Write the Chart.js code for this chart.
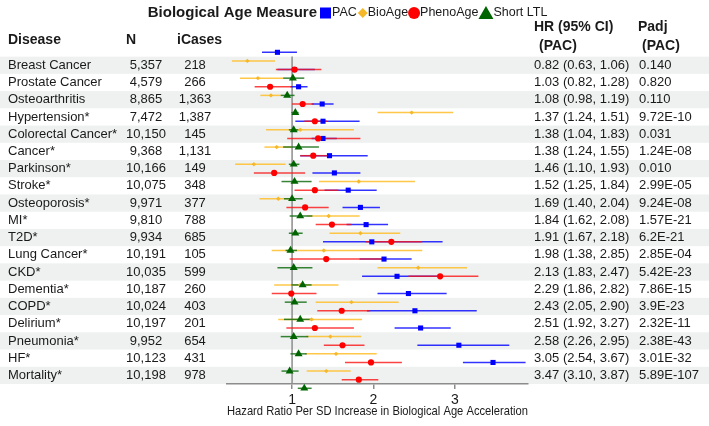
<!DOCTYPE html>
<html>
<head>
<meta charset="utf-8">
<script src="https://cdn.jsdelivr.net/npm/chart.js@4/dist/chart.umd.min.js"></script>
<style>
  html, body { margin: 0; padding: 0; background: #fff; }
</style>
</head>
<body>
<canvas id="forest_chart" width="709" height="426"></canvas>
<script>
const diseases = ['Breast Cancer', 'Prostate Cancer', 'Osteoarthritis', 'Hypertension*', 'Colorectal Cancer*',
  'Cancer*', 'Parkinson*', 'Stroke*', 'Osteoporosis*', 'MI*', 'T2D*', 'Lung Cancer*', 'CKD*', 'Dementia*',
  'COPD*', 'Delirium*', 'Pneumonia*', 'HF*', 'Mortality*'];
const nTotal = ['5,357', '4,579', '8,865', '7,472', '10,150', '9,368', '10,166', '10,075', '9,971', '9,810',
  '9,934', '10,191', '10,035', '10,187', '10,024', '10,197', '9,952', '10,123', '10,198'];
const nCases = ['218', '266', '1,363', '1,387', '145', '1,131', '149', '348', '377', '788',
  '685', '105', '599', '260', '403', '201', '654', '431', '978'];
const padj = ['0.140', '0.820', '0.110', '9.72E-10', '0.031', '1.24E-08', '0.010', '2.99E-05', '9.24E-08', '1.57E-21',
  '6.2E-21', '2.85E-04', '5.42E-23', '7.86E-15', '3.9E-23', '2.32E-11', '2.38E-43', '3.01E-32', '5.89E-107'];

// PAC
const pacHR = [0.82, 1.03, 1.08, 1.37, 1.38, 1.38, 1.46, 1.52, 1.69, 1.84, 1.91, 1.98, 2.13, 2.29, 2.43, 2.51, 2.58, 3.05, 3.47];
const pacLo = [0.63, 0.82, 0.98, 1.24, 1.04, 1.24, 1.10, 1.25, 1.40, 1.62, 1.67, 1.38, 1.83, 1.86, 2.05, 1.92, 2.26, 2.54, 3.10];
const pacHi = [1.06, 1.28, 1.19, 1.51, 1.83, 1.55, 1.93, 1.84, 2.04, 2.08, 2.18, 2.85, 2.47, 2.82, 2.90, 3.27, 2.95, 3.67, 3.87];
// BioAge
const bioHR = [0.45, 0.58, 0.74, 2.47, 1.10, 0.81, 0.53, 1.82, 0.83, 1.45, 1.84, 1.39, 2.55, 1.10, 1.73, 1.24, 1.47, 1.54, 1.42];
const bioLo = [0.26, 0.36, 0.61, 2.05, 0.68, 0.66, 0.30, 1.33, 0.60, 1.18, 1.46, 0.75, 2.05, 0.78, 1.29, 0.83, 1.17, 1.16, 1.18];
const bioHi = [0.79, 0.89, 0.86, 2.98, 1.76, 0.99, 0.92, 2.51, 1.00, 1.83, 2.33, 2.60, 3.15, 1.57, 2.31, 1.86, 1.85, 2.04, 1.72];
// PhenoAge
const phenoHR = [1.03, 0.73, 1.13, 1.28, 1.32, 1.26, 0.78, 1.28, 1.16, 1.49, 2.22, 1.42, 2.82, 0.99, 1.61, 1.28, 1.62, 1.97, 1.82];
const phenoLo = [0.80, 0.54, 1.00, 1.15, 0.94, 1.10, 0.53, 1.03, 0.93, 1.29, 1.90, 0.97, 2.43, 0.75, 1.31, 0.93, 1.39, 1.65, 1.61];
const phenoHi = [1.36, 0.99, 1.27, 1.43, 1.84, 1.43, 1.16, 1.57, 1.45, 1.73, 2.60, 2.13, 3.29, 1.30, 1.96, 1.76, 1.89, 2.35, 2.06];
// Short LTL
const ltlHR = [1.01, 0.94, 1.04, 1.02, 1.08, 1.02, 1.03, 1.00, 1.10, 1.04, 0.98, 1.02, 1.13, 1.03, 1.10, 1.02, 1.08, 0.97, 1.15];
const ltlLo = [0.89, 0.86, 0.99, 0.96, 0.89, 0.96, 0.87, 0.90, 0.97, 0.96, 0.92, 0.82, 0.99, 0.91, 0.90, 0.86, 0.98, 0.87, 1.07];
const ltlHi = [1.15, 1.03, 1.08, 1.08, 1.33, 1.09, 1.24, 1.13, 1.25, 1.13, 1.06, 1.25, 1.24, 1.18, 1.23, 1.20, 1.18, 1.08, 1.24];

const xTicks = [1, 2, 3];
const FONT = '"Liberation Sans", Arial, sans-serif';

function fmt(v) { return v.toFixed(2); }
const hrText = pacHR.map((v, i) => fmt(v) + ' (' + fmt(pacLo[i]) + ', ' + fmt(pacHi[i]) + ')');

function makeSet(label, hr, lo, hi, off, style, radius, color, lineColor, order) {
  return {
    label: label,
    data: hr.map((v, i) => ({ x: v, y: i + off })),
    lo: lo, hi: hi, off: off, lineColor: lineColor,
    pointStyle: style,
    pointRadius: radius,
    pointHoverRadius: radius,
    backgroundColor: color,
    borderColor: color,
    borderWidth: 0,
    clip: false,
    order: order
  };
}

// background bands, reference line, CI whiskers
const forestPlugin = {
  id: 'forest',
  beforeDraw(chart) {
    const c = chart.ctx, y = chart.scales.y, x = chart.scales.x;
    c.save();
    c.fillStyle = '#fff';
    c.fillRect(0, 0, chart.width, chart.height);
    c.fillStyle = '#EEF1F0';
    for (let i = 0; i < diseases.length; i += 2) {
      const t = y.getPixelForValue(i - 0.5), b = y.getPixelForValue(i + 0.5);
      c.fillRect(0, t, chart.width, b - t);
    }
    c.strokeStyle = '#8c8c8c';
    c.lineWidth = 1.5;
    c.beginPath();
    c.moveTo(x.getPixelForValue(1), y.getPixelForValue(-0.5));
    c.lineTo(x.getPixelForValue(1), chart.chartArea.bottom);
    c.stroke();
    c.restore();
  },
  beforeDatasetsDraw(chart) {
    const c = chart.ctx, y = chart.scales.y, x = chart.scales.x;
    c.save();
    c.lineWidth = 1.5;
    chart.data.datasets.forEach(ds => {
      c.strokeStyle = ds.lineColor;
      ds.lo.forEach((lo, i) => {
        const py = y.getPixelForValue(i + ds.off);
        c.beginPath();
        c.moveTo(x.getPixelForValue(lo), py);
        c.lineTo(x.getPixelForValue(ds.hi[i]), py);
        c.stroke();
      });
    });
    c.restore();
  },
  afterDraw(chart) {
    const c = chart.ctx, y = chart.scales.y;
    c.save();
    c.fillStyle = '#1a1a1a';
    c.textBaseline = 'middle';
    // headers
    c.font = 'bold 14px ' + FONT;
    c.textAlign = 'left';
    c.fillText('Disease', 8, 40);
    c.fillText('N', 126, 40);
    c.fillText('iCases', 177, 40);
    c.fillText('HR (95% CI)', 534, 27);
    c.fillText('(PAC)', 539, 46);
    c.fillText('Padj', 638, 27);
    c.fillText('(PAC)', 642, 46);
    // rows
    c.font = '13px ' + FONT;
    diseases.forEach((d, i) => {
      const py = y.getPixelForValue(i);
      c.textAlign = 'left';
      c.fillText(d, 8, py);
      c.fillText(hrText[i], 534, py);
      c.fillText(padj[i], 639, py);
      c.textAlign = 'center';
      c.fillText(nTotal[i], 146, py);
      c.fillText(nCases[i], 195, py);
    });
    // legend
    const ly = 13;
    c.textAlign = 'right';
    c.font = 'bold 15px ' + FONT;
    c.fillText('Biological Age Measure', 317, ly);
    c.textAlign = 'left';
    c.font = '12.5px ' + FONT;
    let lx = 320;
    c.fillStyle = '#0000FF';
    c.fillRect(lx, ly - 5.5, 11, 11);
    lx += 12;
    c.fillStyle = '#1a1a1a';
    c.fillText('PAC', lx, ly);
    lx += c.measureText('PAC').width + 1;
    c.fillStyle = '#F6B82B';
    c.beginPath();
    c.moveTo(lx + 5, ly - 5); c.lineTo(lx + 10, ly); c.lineTo(lx + 5, ly + 5); c.lineTo(lx, ly);
    c.closePath(); c.fill();
    lx += 10;
    c.fillStyle = '#1a1a1a';
    c.fillText('BioAge', lx, ly);
    lx += c.measureText('BioAge').width;
    c.fillStyle = '#FF0000';
    c.beginPath();
    c.arc(lx + 6, ly, 6, 0, Math.PI * 2);
    c.fill();
    lx += 12;
    c.fillStyle = '#1a1a1a';
    c.fillText('PhenoAge', lx, ly);
    lx += c.measureText('PhenoAge').width;
    c.fillStyle = '#006400';
    c.beginPath();
    c.moveTo(lx + 7.5, ly - 7); c.lineTo(lx + 15, ly + 6); c.lineTo(lx, ly + 6);
    c.closePath(); c.fill();
    lx += 15;
    c.fillStyle = '#1a1a1a';
    c.fillText('Short LTL', lx, ly);
    c.restore();
  }
};

const chart = new Chart(document.getElementById('forest_chart'), {
  type: 'scatter',
  data: {
    datasets: [
      makeSet('PAC', pacHR, pacLo, pacHi, -0.75, 'rect', 3.6, '#0000FF', 'rgba(0,0,255,0.8)', 3),
      makeSet('BioAge', bioHR, bioLo, bioHi, -0.25, 'rectRot', 2.2, '#F6B82B', 'rgba(255,190,40,0.85)', 2),
      makeSet('PhenoAge', phenoHR, phenoLo, phenoHi, 0.25, 'circle', 3.1, '#FF0000', 'rgba(250,20,20,0.8)', 1),
      makeSet('Short LTL', ltlHR, ltlLo, ltlHi, 0.75, 'triangle', 4.6, '#006400', 'rgba(20,110,20,0.85)', 0)
    ]
  },
  options: {
    responsive: false,
    animation: false,
    events: [],
    layout: { padding: { left: 227, right: 181, top: 48, bottom: 0 } },
    plugins: { legend: { display: false }, tooltip: { enabled: false } },
    scales: {
      x: {
        type: 'linear',
        min: 0.2,
        max: 3.9,
        afterBuildTicks: s => { s.ticks = xTicks.map(v => ({ value: v })); },
        afterFit: s => { s.height = 42; },
        grid: { display: true, drawOnChartArea: false, drawTicks: true, tickLength: 5, color: '#8c8c8c', lineWidth: 1.5 },
        border: { display: true, color: '#8c8c8c', width: 1.5 },
        ticks: { color: '#1a1a1a', font: { size: 14, family: FONT }, padding: 3 },
        title: {
          display: true,
          text: 'Hazard Ratio Per SD Increase in Biological Age Acceleration',
          color: '#1a1a1a',
          font: { size: 13.5, family: FONT },
          padding: { top: 0, bottom: 7 }
        }
      },
      y: { type: 'linear', reverse: true, min: -1, max: 18.5, display: false }
    }
  },
  plugins: [forestPlugin]
});
</script>
</body>
</html>
